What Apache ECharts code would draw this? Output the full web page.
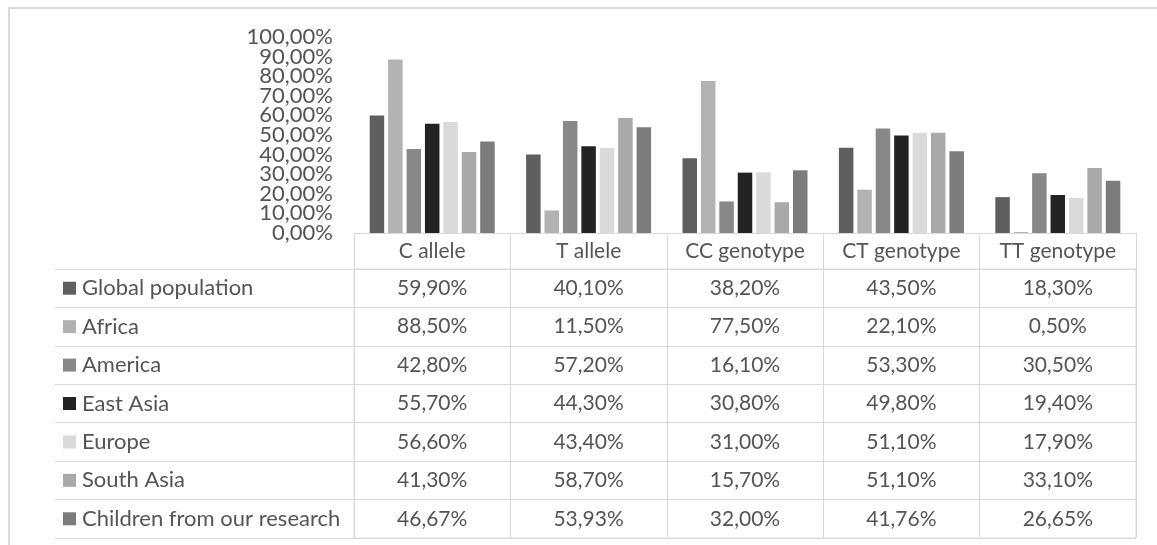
<!DOCTYPE html>
<html>
<head>
<meta charset="utf-8">
<title>Allele and genotype frequencies</title>
<script src="https://cdn.jsdelivr.net/npm/echarts@6/dist/echarts.min.js"></script>
<style>
  html, body { margin: 0; padding: 0; background: #ffffff; }
  #chart { width: 1157px; height: 545px; }
</style>
</head>
<body>
<div id="chart"></div>
<script>
// Categories on the x axis and the rows of the data table
const categories = ['C allele', 'T allele', 'CC genotype', 'CT genotype', 'TT genotype'];
const seriesNames = ['Global population', 'Africa', 'America', 'East Asia', 'Europe', 'South Asia', 'Children from our research'];

// Frequencies in percent, one array per population
const globalPopulation = [59.90, 40.10, 38.20, 43.50, 18.30];
const africa           = [88.50, 11.50, 77.50, 22.10, 0.50];
const america          = [42.80, 57.20, 16.10, 53.30, 30.50];
const eastAsia         = [55.70, 44.30, 30.80, 49.80, 19.40];
const europe           = [56.60, 43.40, 31.00, 51.10, 17.90];
const southAsia        = [41.30, 58.70, 15.70, 51.10, 33.10];
const children         = [46.67, 53.93, 32.00, 41.76, 26.65];

// Value axis range
const yMin = 0;
const yMax = 100;
const yStep = 10;

const seriesValues = [globalPopulation, africa, america, eastAsia, europe, southAsia, children];
const colors = ['#5f5f5f', '#b2b2b2', '#888888', '#232323', '#dadada', '#a9a9a9', '#7c7c7c'];

const FONT = 'Lato, "Open Sans", sans-serif';
const TEXT = '#555555';
const LINE = '#d9d9d9';

function pct(v) {
  return v.toFixed(2).replace('.', ',') + '%';
}

// Data table cells: [category index, row index, value]
const cells = [];
seriesValues.forEach(function (vals, r) {
  vals.forEach(function (v, c) { cells.push([c, r, v]); });
});

const rich = { t: { fontFamily: FONT, fontSize: 22, color: TEXT, padding: [0, 0, 0, 6] } };
colors.forEach(function (col, i) {
  rich['sq' + i] = { backgroundColor: col, width: 13, height: 13 };
});

const valueLabel = {
  margin: 21,
  color: TEXT,
  fontFamily: FONT,
  fontSize: 22,
  hideOverlap: false,
  formatter: function (v) { return pct(v); }
};

const chart = echarts.init(document.getElementById('chart'), null, { renderer: 'canvas' });

const barSeries = seriesNames.map(function (name, i) {
  return {
    name: name,
    type: 'bar',
    xAxisIndex: 0,
    yAxisIndex: 0,
    data: seriesValues[i],
    barWidth: 14.5,
    barGap: '27%',
    itemStyle: { color: colors[i] },
    silent: true
  };
});

chart.setOption({
  animation: false,
  backgroundColor: '#ffffff',
  textStyle: { fontFamily: FONT },
  graphic: [{
    type: 'rect',
    shape: { x: 9, y: 8, width: 1300, height: 700 },
    style: { fill: 'none', stroke: LINE, lineWidth: 2 },
    silent: true
  }],
  grid: [
    { left: 354, right: 21, top: 37, height: 196 },
    { left: 354, right: 21, top: 269, bottom: 7, show: true, borderColor: LINE, borderWidth: 1 }
  ],
  xAxis: [{
    type: 'category',
    gridIndex: 0,
    data: categories,
    axisLine: { show: true, lineStyle: { color: LINE, width: 1 } },
    axisTick: { show: true, length: 36, interval: 0, lineStyle: { color: LINE } },
    axisLabel: { interval: 0, margin: 8, color: TEXT, fontFamily: FONT, fontSize: 21 }
  }, {
    type: 'category',
    gridIndex: 1,
    data: categories,
    axisLine: { show: false },
    axisTick: { show: false },
    axisLabel: { show: false },
    splitLine: { show: true, interval: 0, lineStyle: { color: LINE } }
  }],
  yAxis: [{
    // inner tick labels 10 % … 90 %
    type: 'value',
    gridIndex: 0,
    position: 'left',
    min: yMin,
    max: yMax,
    interval: yStep,
    axisLine: { show: false },
    axisTick: { show: false },
    splitLine: { show: false },
    axisLabel: Object.assign({ showMinLabel: false, showMaxLabel: false }, valueLabel)
  }, {
    // end labels 0 % and 100 %
    type: 'value',
    gridIndex: 0,
    position: 'left',
    offset: 0,
    min: yMin,
    max: yMax,
    interval: yMax - yMin,
    axisLine: { show: false },
    axisTick: { show: false },
    splitLine: { show: false },
    axisLabel: Object.assign({ showMinLabel: true, showMaxLabel: true }, valueLabel)
  }, {
    type: 'category',
    gridIndex: 1,
    inverse: true,
    data: seriesNames,
    axisLine: { show: true, lineStyle: { color: LINE } },
    axisTick: { show: true, length: 299, interval: 0, lineStyle: { color: LINE } },
    splitLine: { show: true, interval: 0, lineStyle: { color: LINE } },
    axisLabel: {
      interval: 0,
      align: 'left',
      margin: 291,
      rich: rich,
      formatter: function (name, idx) {
        return '{sq' + idx + '| }{t|' + name + '}';
      }
    }
  }, {
    type: 'category',
    gridIndex: 1,
    inverse: true,
    data: seriesNames,
    offset: 299,
    axisLine: { show: true, lineStyle: { color: LINE } },
    axisTick: { show: false },
    axisLabel: { show: false }
  }],
  series: barSeries.concat([{
    type: 'custom',
    xAxisIndex: 1,
    yAxisIndex: 2,
    data: cells,
    encode: { x: 0, y: 1 },
    silent: true,
    renderItem: function (params, api) {
      const p = api.coord([api.value(0), api.value(1)]);
      return {
        type: 'text',
        x: p[0],
        y: p[1],
        style: {
          text: pct(api.value(2)),
          fill: TEXT,
          font: '21px ' + FONT,
          align: 'center',
          verticalAlign: 'middle'
        }
      };
    }
  }])
});
</script>
</body>
</html>
